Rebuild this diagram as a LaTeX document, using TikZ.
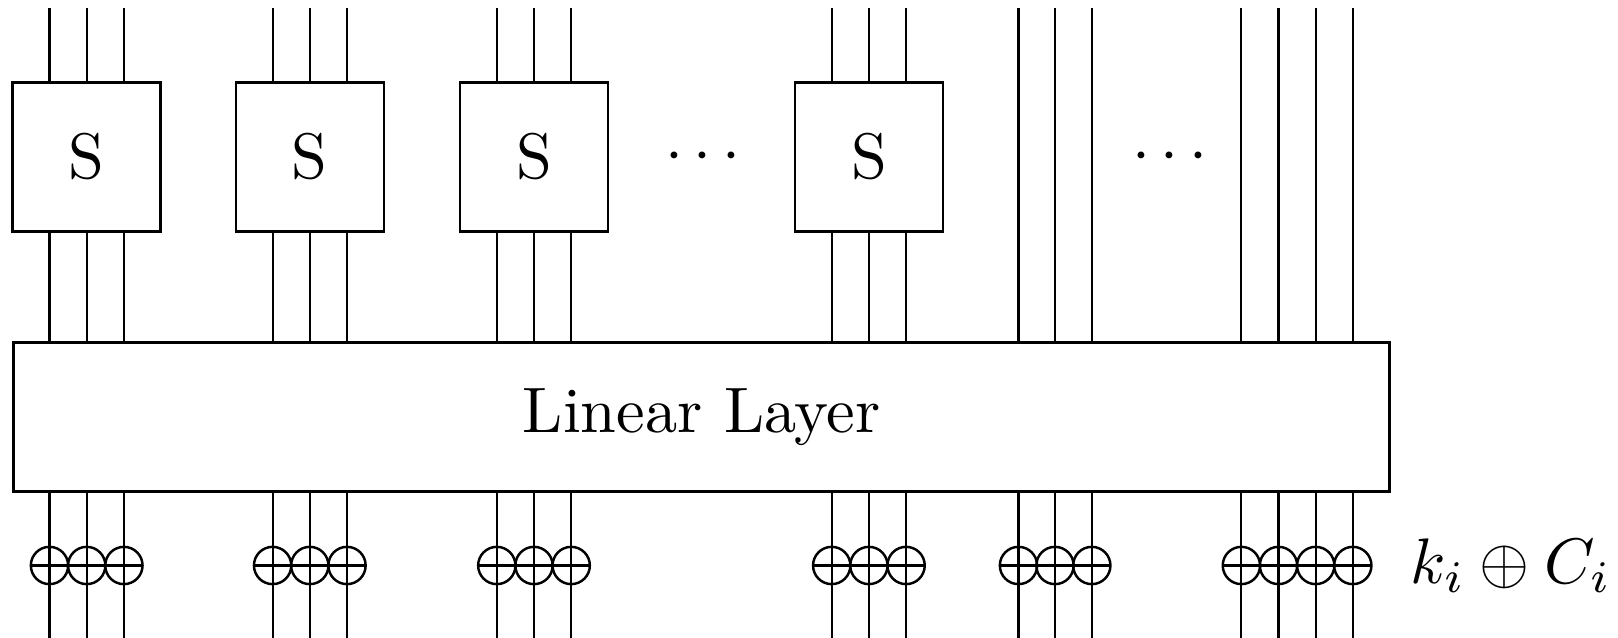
\documentclass[tikz,border=0pt]{standalone}
\usepackage{amsmath,amssymb,graphicx}
\usepackage{tikz}
\usetikzlibrary{positioning,calc}
\newcommand{\bigtxt}[1]{\scalebox{1.83}{#1}}
\tikzset{
  sbox/.style={draw, line width=.7pt, minimum width=1.48cm, minimum height=1.49cm, inner sep=0pt},
  llbox/.style={draw, line width=.7pt, minimum width=13.76cm, minimum height=1.49cm, inner sep=0pt},
  xorc/.style={circle, draw, line width=.7pt, minimum size=.373cm, inner sep=0pt,
    path picture={\draw[line width=.7pt] (path picture bounding box.west) -- (path picture bounding box.east);}},
  wire/.style={line width=.6pt}
}

\begin{document}
\begin{tikzpicture}
        \useasboundingbox (0,0) rectangle (16.18,6.38);
        % S boxes and the linear layer
        \foreach \n/\c in {1/0.867,2/3.098,3/5.340,4/8.689}{
          \node[sbox] (s\n) at (\c,4.81) {\bigtxt{S}};
        }
        \node (dotsa) at (7.08,4.81) {\bigtxt{$\cdots$}};
        \node (dotsb) at (11.75,4.81) {\bigtxt{$\cdots$}};
        \node[llbox] (ll) at (7.017,2.211) {\bigtxt{Linear Layer}};
        % wires through the S boxes
        \foreach \n/\c in {1/0.867,2/3.098,3/5.340,4/8.689}{
          \foreach \d in {-1,0,1}{
            \coordinate (w) at ({\c+\d*0.372},6.295);
            \draw[wire] (w) -- (w |- s\n.north);
            \draw[wire] (w |- s\n.south) -- (w |- ll.north);
            \draw[wire] (w |- ll.south) -- (w |- 0,0);
            \node[xorc] (x\n\d) at (w |- 0,0.725) {};
          }
        }
        % wires with no S box
        \foreach \c in {10.185,10.550,10.918,12.414,12.785,13.157,13.528}{
          \coordinate (w) at (\c,6.295);
          \draw[wire] (w) -- (w |- ll.north);
          \draw[wire] (w |- ll.south) -- (w |- 0,0);
          \node[xorc] (x\c) at (w |- 0,0.725) {};
        }
        \node (key) at (15.11,0.725) {\bigtxt{$k_i \oplus C_i$}};
      \end{tikzpicture}
\end{document}
